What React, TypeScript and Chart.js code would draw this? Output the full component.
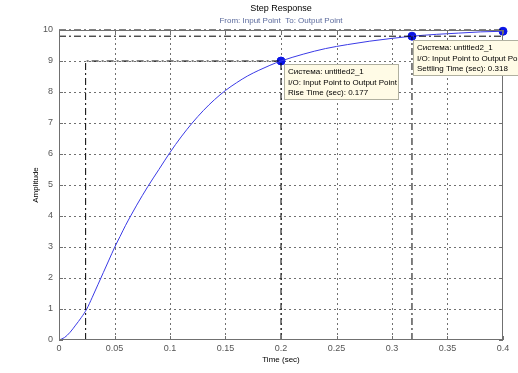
import React, { useEffect, useRef } from "react";
import { Chart, registerables } from "chart.js";

Chart.register(...registerables);

const timeSec = [0, 0.005, 0.01, 0.015, 0.02, 0.025, 0.03, 0.035, 0.04, 0.045, 0.05, 0.055, 0.06, 0.065, 0.07, 0.08, 0.09, 0.1, 0.11, 0.12, 0.13, 0.14, 0.15, 0.16, 0.17, 0.18, 0.19, 0.2, 0.22, 0.24, 0.26, 0.28, 0.3, 0.318, 0.34, 0.36, 0.38, 0.4];
const amplitude = [0, 0.08, 0.25, 0.48, 0.72, 1.0, 1.38, 1.78, 2.18, 2.58, 2.98, 3.34, 3.7, 4.03, 4.35, 4.95, 5.5, 6.05, 6.55, 7.0, 7.4, 7.75, 8.05, 8.3, 8.52, 8.7, 8.86, 9.0, 9.22, 9.4, 9.53, 9.64, 9.73, 9.8, 9.86, 9.9, 9.94, 9.96];

const markerX = [0.2, 0.318, 0.4];
const markerY = [9.0, 9.8, 9.96];

const riseStart = 0.024;
const riseEnd = 0.2;
const riseHigh = 9;
const settleTime = 0.318;
const settleLevel = 9.8;
const steadyLevel = 10;

const xTicks = [0, 0.05, 0.1, 0.15, 0.2, 0.25, 0.3, 0.35, 0.4];
const yTicks = [0, 1, 2, 3, 4, 5, 6, 7, 8, 9, 10];

const titleText = "Step Response";
const subtitleText = "From: Input Point  To: Output Point";
const xTitle = "Time (sec)";
const yTitle = "Amplitude";
const tip1 = ["Система: untitled2_1", "I/O: Input Point to Output Point", "Rise Time (sec): 0.177"];
const tip2 = ["Система: untitled2_1", "I/O: Input Point to Output Point", "Settling Time (sec): 0.318"];

const FONT = "Arial, 'Liberation Sans', sans-serif";

export default function App() {
  const ref = useRef<HTMLCanvasElement>(null);
  useEffect(() => {
    const canvas = ref.current!;
    const dash = [7, 3, 2, 3];
    const refLine = (pts: { x: number; y: number }[]) => ({
      data: pts,
      borderColor: "#000",
      borderWidth: 1,
      borderDash: dash,
      pointRadius: 0,
      fill: false,
      tension: 0,
      clip: 3 as any,
    });

    const gridPlugin = {
      id: "dottedGrid",
      beforeDatasetsDraw(chart: any) {
        const ctx = chart.ctx as CanvasRenderingContext2D;
        const a = chart.chartArea;
        const xs = chart.scales.x;
        const ys = chart.scales.y;
        ctx.save();
        ctx.strokeStyle = "#707070";
        ctx.lineWidth = 1;
        ctx.setLineDash([2, 3]);
        ctx.beginPath();
        for (const t of xTicks) {
          const px = Math.round(xs.getPixelForValue(t)) + 0.5;
          if (px <= a.left + 1 || px >= a.right - 1) continue;
          ctx.moveTo(px, a.bottom);
          ctx.lineTo(px, a.top);
        }
        for (const t of yTicks) {
          const py = Math.round(ys.getPixelForValue(t)) + 0.5;
          if (py <= a.top + 1 || py >= a.bottom - 1) continue;
          ctx.moveTo(a.left, py);
          ctx.lineTo(a.right, py);
        }
        ctx.stroke();
        ctx.restore();
      },
    };

    const extras = {
      id: "extras",
      afterDraw(chart: any) {
        const ctx = chart.ctx as CanvasRenderingContext2D;
        const a = chart.chartArea;
        const xs = chart.scales.x;
        const ys = chart.scales.y;
        ctx.save();
        ctx.strokeStyle = "#707070";
        ctx.lineWidth = 1;
        ctx.setLineDash([]);
        ctx.strokeRect(a.left + 0.5, a.top + 0.5, a.right - a.left - 1, a.bottom - a.top - 1);
        ctx.beginPath();
        for (const t of xTicks) {
          const px = Math.round(xs.getPixelForValue(t)) + 0.5;
          ctx.moveTo(px, a.bottom);
          ctx.lineTo(px, a.bottom - 4);
          ctx.moveTo(px, a.top);
          ctx.lineTo(px, a.top + 4);
        }
        for (const t of yTicks) {
          const py = Math.round(ys.getPixelForValue(t)) + 0.5;
          ctx.moveTo(a.left, py);
          ctx.lineTo(a.left + 4, py);
          ctx.moveTo(a.right, py);
          ctx.lineTo(a.right - 4, py);
        }
        ctx.stroke();
        ctx.fillStyle = "#000";
        ctx.textAlign = "center";
        ctx.textBaseline = "middle";
        ctx.font = `9px ${FONT}`;
        ctx.fillText(titleText, (a.left + a.right) / 2, 9);
        ctx.fillStyle = "#5b6a9c";
        ctx.font = `8px ${FONT}`;
        ctx.fillText(subtitleText, (a.left + a.right) / 2, 21);
        ctx.fillStyle = "#000";
        ctx.fillText(xTitle, (a.left + a.right) / 2, 360);
        ctx.save();
        ctx.translate(36, (a.top + a.bottom) / 2);
        ctx.rotate(-Math.PI / 2);
        ctx.fillText(yTitle, 0, 0);
        ctx.restore();
        const drawTip = (x: number, y: number, w: number, h: number, lines: string[]) => {
          ctx.fillStyle = "#fffbe6";
          ctx.fillRect(x, y, w, h);
          ctx.strokeStyle = "#b0b0a0";
          ctx.strokeRect(x + 0.5, y + 0.5, w - 1, h - 1);
          ctx.fillStyle = "#000";
          ctx.textAlign = "left";
          ctx.textBaseline = "middle";
          ctx.font = `8px ${FONT}`;
          lines.forEach((l, i) => ctx.fillText(l, x + 4, y + 7.5 + i * 10.8));
        };
        const p1x = xs.getPixelForValue(markerX[0]);
        const p1y = ys.getPixelForValue(markerY[0]);
        drawTip(Math.round(p1x) + 3, Math.round(p1y) + 3, 115, 36, tip1);
        const p2x = xs.getPixelForValue(markerX[1]);
        const p2y = ys.getPixelForValue(markerY[1]);
        drawTip(Math.round(p2x) + 1, Math.round(p2y) + 4, 130, 36, tip2);
        ctx.restore();
      },
    };

    const chart = new Chart(canvas, {
      type: "line",
      data: {
        datasets: [
          refLine([{ x: 0, y: steadyLevel }, { x: 0.4, y: steadyLevel }]),
          refLine([{ x: 0, y: settleLevel }, { x: 0.4, y: settleLevel }]),
          refLine([{ x: riseStart, y: 0 }, { x: riseStart, y: riseHigh }, { x: riseEnd, y: riseHigh }]),
          refLine([{ x: riseEnd, y: 0 }, { x: riseEnd, y: riseHigh }]),
          refLine([{ x: settleTime, y: 0 }, { x: settleTime, y: settleLevel }]),
          {
            data: timeSec.map((t, i) => ({ x: t, y: amplitude[i] })),
            borderColor: "#3a3ae6",
            borderWidth: 1,
            pointRadius: 0,
            fill: false,
            cubicInterpolationMode: "monotone",
            clip: 3 as any,
          },
          {
            data: markerX.map((t, i) => ({ x: t, y: markerY[i] })),
            showLine: false,
            pointRadius: 4,
            pointBackgroundColor: "#0a14e6",
            pointBorderColor: "#0a14e6",
            clip: 6 as any,
          },
        ] as any,
      },
      options: {
        animation: false,
        responsive: false,
        events: [],
        layout: { padding: { top: 30, right: 15, left: 0, bottom: 0 } },
        plugins: { legend: { display: false }, tooltip: { enabled: false }, title: { display: false } },
        scales: {
          x: {
            type: "linear",
            min: 0,
            max: 0.4,
            afterBuildTicks: (s: any) => { s.ticks = xTicks.map((v) => ({ value: v })); },
            afterFit: (s: any) => { s.height = 33; },
            ticks: {
              color: "#555",
              font: { size: 9, family: FONT },
              padding: 3,
              maxRotation: 0,
              callback: (v: any) => String(Number(Number(v).toFixed(3))),
            },
            grid: { display: false, drawTicks: false },
            border: { display: false },
          },
          y: {
            type: "linear",
            min: 0,
            max: 10,
            afterBuildTicks: (s: any) => { s.ticks = yTicks.map((v) => ({ value: v })); },
            afterFit: (s: any) => { s.width = 59; },
            ticks: { color: "#555", font: { size: 9, family: FONT }, padding: 6 },
            grid: { display: false, drawTicks: false },
            border: { display: false },
          },
        },
      } as any,
      plugins: [gridPlugin, extras],
    });
    return () => chart.destroy();
  }, []);
  return (
    <div style={{ position: "fixed", left: 0, top: 0, width: 518, height: 373, background: "#fff" }}>
      <canvas ref={ref} width={518} height={373} style={{ width: 518, height: 373 }} />
    </div>
  );
}
